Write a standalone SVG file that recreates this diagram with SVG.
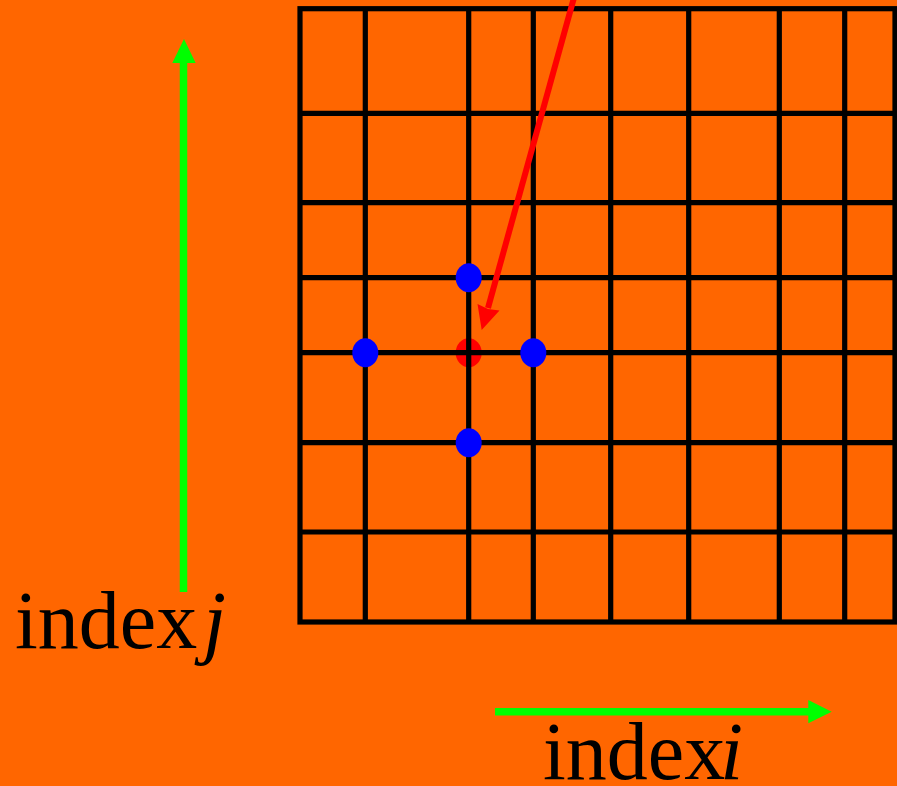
<svg xmlns="http://www.w3.org/2000/svg" width="897" height="786" viewBox="0 0 897 786">
<style>
.grid{stroke:#000;stroke-width:5.2;fill:none}
.blue{fill:#0000ff}
.lbl{font-family:"Liberation Serif","Times New Roman",serif;font-size:82px;fill:#000}
.it{font-style:italic}
.green{stroke:#00ff00;stroke-width:7.5;fill:none}
</style>
<rect width="897" height="786" fill="#ff6600"/>
<g id="center-point">
<ellipse cx="468.7" cy="352.7" rx="13" ry="14.5" fill="#ff0000"/>
</g>
<g id="grid">
<rect class="grid" x="300" y="8.7" width="595" height="613.3"/>
<path class="grid" d="M365.3 8.7V622M468.7 8.7V622M533.3 8.7V622M610.7 8.7V622M688.7 8.7V622M779.3 8.7V622M844.7 8.7V622"/>
<path class="grid" d="M300 113.3H895M300 202.7H895M300 277.7H895M300 352.7H895M300 442.7H895M300 532H895"/>
</g>
<g id="neighbour-top"><ellipse class="blue" cx="468.7" cy="277.7" rx="13" ry="14.5"/></g>
<g id="neighbour-left"><ellipse class="blue" cx="365.3" cy="352.7" rx="13" ry="14.5"/></g>
<g id="neighbour-right"><ellipse class="blue" cx="533.3" cy="352.7" rx="13" ry="14.5"/></g>
<g id="neighbour-bottom"><ellipse class="blue" cx="468.7" cy="442.7" rx="13" ry="14.5"/></g>
<g id="connectors">
<line x1="575" y1="-6" x2="488" y2="308" stroke="#ff0000" stroke-width="6"/>
<polygon points="481.7,330 477.5,304 488,309 499.5,310.5" fill="#ff0000"/>
<line class="green" x1="183.5" y1="592" x2="183.5" y2="60"/>
<polygon points="184,39 172.3,63 195.7,63" fill="#00ff00"/>
<line class="green" x1="495" y1="711.7" x2="810" y2="711.7"/>
<polygon points="831.7,711.7 808.3,700 808.3,723.3" fill="#00ff00"/>
</g>
<g id="label-j"><text class="lbl" x="15" y="648">index<tspan class="it" dx="6">j</tspan></text></g>
<g id="label-i"><text class="lbl" x="543" y="779">index<tspan class="it" dx="-5">i</tspan></text></g>
</svg>
